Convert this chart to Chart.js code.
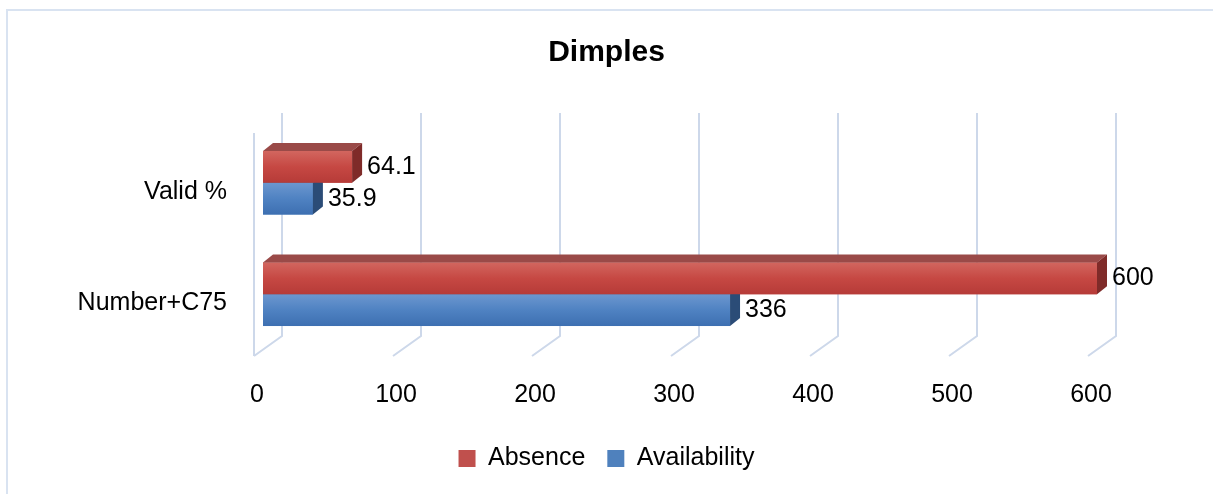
<!DOCTYPE html>
<html lang="en">
<head>
<meta charset="UTF-8">
<title>Dimples</title>
<script src="https://cdn.jsdelivr.net/npm/chart.js"></script>
<style>
    body {
        margin: 0;
        background: #ffffff;
        font-family: "Liberation Sans", Arial, sans-serif;
    }
    .frame {
        position: absolute;
        left: 6px;
        top: 9px;
        right: 0;
        bottom: 0;
        border-left: 2px solid #D9E3F1;
        border-top: 2px solid #D9E3F1;
    }
    .wrap {
        position: absolute;
        left: 0;
        top: 0;
        width: 1213px;
        height: 494px;
    }
</style>
</head>
<body>
<div class="frame"></div>
<div class="wrap"><canvas id="chart"></canvas></div>
<script>
const categories = ['Valid %', 'Number+C75'];
const absence = [64.1, 600];
const availability = [35.9, 336];
const xTicks = [0, 100, 200, 300, 400, 500, 600];

const FONT = '"Liberation Sans", Arial, sans-serif';

// bar depth and face colours
const DX = 10, DY = 8;
const faces = [
    { top: '#D2665F', mid: '#C64843', bottom: '#B63B38', lid: '#9A4A48', side: '#7F2B29' },
    { top: '#6C97CF', mid: '#4F82C2', bottom: '#3D6FB1', lid: '#4B6E9C', side: '#2B4C77' }
];

const box3d = {
    id: 'box3d',
    beforeDatasetsDraw(chart) {
        const { ctx, chartArea: a, scales: { x } } = chart;
        ctx.save();
        ctx.strokeStyle = '#CDD8EA';
        ctx.lineWidth = 2;
        xTicks.forEach(v => {
            const px = x.getPixelForValue(v);
            ctx.beginPath();
            ctx.moveTo(px + 19, a.top - 14);
            ctx.lineTo(px + 19, a.bottom - 14);
            ctx.lineTo(px - 9, a.bottom + 6);
            ctx.stroke();
        });
        const p0 = x.getPixelForValue(0);
        ctx.beginPath();
        ctx.moveTo(p0 - 9, a.top + 6);
        ctx.lineTo(p0 - 9, a.bottom + 6);
        ctx.stroke();
        ctx.restore();
    },
    afterDatasetsDraw(chart) {
        const { ctx } = chart;
        ctx.save();
        const labels = [];
        for (let d = chart.data.datasets.length - 1; d >= 0; d--) {
            const f = faces[d];
            const meta = chart.getDatasetMeta(d);
            meta.data.forEach((bar, i) => {
                const { x, y, base, height } = bar.getProps(['x', 'y', 'base', 'height'], true);
                const top = y - height / 2, bottom = y + height / 2;
                const left = Math.min(base, x), right = Math.max(base, x);

                const g = ctx.createLinearGradient(0, top, 0, bottom);
                g.addColorStop(0, f.top);
                g.addColorStop(0.5, f.mid);
                g.addColorStop(1, f.bottom);
                ctx.fillStyle = g;
                ctx.fillRect(left, top, right - left, height);

                ctx.fillStyle = f.lid;
                ctx.beginPath();
                ctx.moveTo(left, top);
                ctx.lineTo(left + DX, top - DY);
                ctx.lineTo(right + DX, top - DY);
                ctx.lineTo(right, top);
                ctx.closePath();
                ctx.fill();

                ctx.fillStyle = f.side;
                ctx.beginPath();
                ctx.moveTo(right, top);
                ctx.lineTo(right + DX, top - DY);
                ctx.lineTo(right + DX, bottom - DY);
                ctx.lineTo(right, bottom);
                ctx.closePath();
                ctx.fill();

                labels.push({ x: right + 15, y: y, text: String(chart.data.datasets[d].data[i]) });
            });
        }
        ctx.fillStyle = '#000000';
        ctx.font = '25px ' + FONT;
        ctx.textAlign = 'left';
        ctx.textBaseline = 'middle';
        labels.forEach(l => ctx.fillText(l.text, l.x, l.y));
        ctx.restore();
    }
};

new Chart(document.getElementById('chart'), {
    type: 'bar',
    data: {
        labels: categories,
        datasets: [
            { label: 'Absence', data: absence, backgroundColor: '#C0504D', borderWidth: 0 },
            { label: 'Availability', data: availability, backgroundColor: '#4F81BD', borderWidth: 0 }
        ]
    },
    options: {
        indexAxis: 'y',
        responsive: true,
        maintainAspectRatio: false,
        animation: false,
        barPercentage: 1,
        categoryPercentage: 0.57,
        layout: { padding: { left: 0, right: 0, top: 0, bottom: 13 } },
        scales: {
            x: {
                type: 'linear',
                min: 0,
                max: 600,
                afterBuildTicks(scale) {
                    scale.ticks = xTicks.map(v => ({ value: v }));
                },
                afterFit(scale) { scale.height = 74; },
                grid: { display: false, drawTicks: false },
                border: { display: false },
                ticks: {
                    font: { family: FONT, size: 25 },
                    color: '#000000',
                    padding: 30,
                    labelOffset: -6,
                    maxRotation: 0
                }
            },
            y: {
                afterFit(scale) { scale.width = 263; },
                grid: { display: false, drawTicks: false },
                border: { display: false },
                ticks: {
                    font: { family: FONT, size: 25 },
                    color: '#000000',
                    padding: 36,
                    labelOffset: 9
                }
            },
            // empty right-hand margin for the value labels
            yRight: {
                type: 'category',
                position: 'right',
                afterFit(scale) { scale.width = 116; },
                grid: { display: false, drawTicks: false },
                border: { display: false },
                ticks: { display: false }
            }
        },
        plugins: {
            title: {
                display: true,
                text: 'Dimples',
                color: '#000000',
                font: { family: FONT, size: 30, weight: 'bold', lineHeight: 1.2 },
                padding: { top: 35, bottom: 56 }
            },
            legend: {
                position: 'bottom',
                labels: {
                    boxWidth: 17,
                    boxHeight: 17,
                    padding: 22,
                    color: '#000000',
                    font: { family: FONT, size: 25 }
                }
            },
            tooltip: { enabled: false }
        }
    },
    plugins: [box3d]
});
</script>
</body>
</html>
